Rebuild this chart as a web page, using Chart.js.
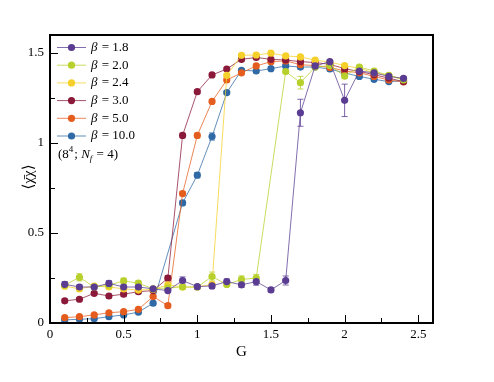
<!DOCTYPE html>
<html><head><meta charset="utf-8">
<script src="https://cdn.jsdelivr.net/npm/chart.js@4"></script>
<style>html,body{margin:0;padding:0;background:#fff}#wrap{width:494px;height:382px}</style>
</head><body><div id="wrap"><canvas id="c" width="494" height="382"></canvas></div>
<script>
// G values (x axis)
const G = [0.1,0.2,0.3,0.4,0.5,0.6,0.7,0.8,0.9,1.0,1.1,1.2,1.3,1.4,1.5,1.6,1.7,1.8,1.9,2.0,2.1,2.2,2.3,2.4];
const betaLabels = ['1.8','2.0','2.4','3.0','5.0','10.0'];
const seriesColors = ['#5a3d92','#b8d02c','#f6d02a','#8b1a3a','#e55d1e','#2f6aa6'];
// <chi-bar chi> values per beta (null = no point)
const beta18  = [0.215,0.20,0.20,0.22,0.20,0.20,0.19,0.18,0.236,0.202,0.206,0.23,0.212,0.23,0.184,0.236,1.168,1.428,1.452,1.237,1.40,1.39,1.37,1.359];
const beta20  = [0.21,0.254,0.20,0.21,0.234,0.221,0.19,0.195,0.20,0.20,0.258,0.214,0.242,0.25,null,1.397,1.335,1.422,1.43,1.372,1.422,1.40,1.376,1.35];
const beta24  = [0.205,0.19,0.205,0.20,0.19,0.183,0.186,0.212,0.20,0.20,0.215,1.376,1.487,1.489,1.499,1.484,1.478,1.46,1.45,1.43,1.415,1.39,1.375,1.355];
const beta30  = [0.123,0.132,0.165,0.15,0.16,0.174,0.18,0.249,1.042,1.285,1.378,1.411,1.465,1.475,1.465,1.461,1.452,1.447,1.437,1.413,1.397,1.38,1.36,1.341];
const beta50  = [0.03,0.035,0.045,0.057,0.063,0.076,0.147,0.096,0.719,1.042,1.231,1.35,1.39,1.428,1.452,1.456,1.435,1.43,1.42,1.40,1.39,1.37,1.35,1.34];
const beta100 = [0.017,0.021,0.024,0.035,0.045,0.06,0.11,null,0.667,0.821,1.036,1.28,1.404,1.40,1.413,1.428,1.422,1.422,1.411,1.389,1.37,1.354,1.341,1.345];
// error bar half-widths
const err18  = [0.015,0.012,0.01,0.015,0.012,0.012,0.01,0.01,0.02,0.012,0.015,0.015,0.015,0.02,0.01,0.025,0.075,0.01,0.01,0.09,0.01,0.01,0.01,0.01];
const err20  = [0.01,0.02,0.01,0.01,0.015,0.012,0.01,0.01,0.01,0.01,0.025,0.01,0.02,0.02,0,0.01,0.035,0.01,0.01,0.015,0.01,0.01,0.01,0.01];
const err24  = [0.015,0.015,0.01,0.01,0.01,0.01,0.01,0.01,0.01,0.01,0.01,0.01,0.01,0.01,0.01,0.01,0.01,0.01,0.01,0.01,0.01,0.01,0.01,0.01];
const err30  = [0.01,0.01,0.01,0.01,0.01,0.01,0.01,0.015,0.012,0.01,0.01,0.01,0.01,0.01,0.01,0.01,0.01,0.01,0.01,0.01,0.01,0.01,0.01,0.01];
const err50  = [0.005,0.005,0.005,0.005,0.005,0.005,0.01,0.01,0.012,0.012,0.01,0.01,0.01,0.01,0.01,0.01,0.01,0.01,0.01,0.01,0.01,0.01,0.01,0.01];
const err100 = [0.005,0.005,0.005,0.005,0.005,0.005,0.01,0,0.012,0.015,0.02,0.01,0.01,0.01,0.01,0.01,0.01,0.01,0.01,0.01,0.01,0.01,0.01,0.01];
const xTicks = [0,0.5,1,1.5,2,2.5];
const yTicks = [0,0.5,1,1.5];

const allVals = [beta18,beta20,beta24,beta30,beta50,beta100];
const allErrs = [err18,err20,err24,err30,err50,err100];

function hexA(h,a){const r=parseInt(h.slice(1,3),16),g=parseInt(h.slice(3,5),16),b=parseInt(h.slice(5,7),16);return `rgba(${r},${g},${b},${a})`;}

const datasets = allVals.map((vals,i)=>({
  label:'β = '+betaLabels[i],
  data: G.map((g,k)=>({x:g,y:vals[k],e:allErrs[i][k]})).filter(p=>p.y!==null),
  borderColor: hexA(seriesColors[i],0.75),
  backgroundColor: seriesColors[i],
  pointBackgroundColor: seriesColors[i],
  pointBorderColor: seriesColors[i],
  borderWidth: 1,
  pointRadius: 3.6,
  pointBorderWidth: 0,
  tension: 0
}));

const SERIF = "'Liberation Serif', 'Times New Roman', Tinos, 'DejaVu Serif', serif";

const decor = {
  id:'decor',
  beforeDatasetsDraw(chart){
    const ctx=chart.ctx, xs=chart.scales.x, ys=chart.scales.y;
    ctx.save();
    chart.data.datasets.forEach((ds,i)=>{
      ctx.strokeStyle=hexA(seriesColors[i],0.8);
      ctx.lineWidth=1;
      ds.data.forEach(p=>{
        if(!p.e) return;
        const x=xs.getPixelForValue(p.x), y1=ys.getPixelForValue(p.y+p.e), y2=ys.getPixelForValue(p.y-p.e);
        ctx.beginPath();
        ctx.moveTo(x,y1);ctx.lineTo(x,y2);
        ctx.moveTo(x-3,y1);ctx.lineTo(x+3,y1);
        ctx.moveTo(x-3,y2);ctx.lineTo(x+3,y2);
        ctx.stroke();
      });
    });
    ctx.restore();
  },
  afterDraw(chart){
    const ctx=chart.ctx, a=chart.chartArea, xs=chart.scales.x, ys=chart.scales.y;
    ctx.save();
    ctx.strokeStyle='#000'; ctx.lineWidth=2;
    ctx.strokeRect(a.left,a.top,a.right-a.left,a.bottom-a.top);
    ctx.lineWidth=1;
    ctx.beginPath();
    for(let v=0; v<=2.6001; v+=0.25){
      const x=Math.round(xs.getPixelForValue(v))+0.5;
      const major=Math.abs(v/0.5-Math.round(v/0.5))<1e-6;
      const L=major?8:5;
      ctx.moveTo(x,a.bottom);ctx.lineTo(x,a.bottom-L);
    }
    for(let v=0; v<=1.6001; v+=0.25){
      const y=Math.round(ys.getPixelForValue(v))+0.5;
      const major=Math.abs(v/0.5-Math.round(v/0.5))<1e-6;
      const L=major?8:5;
      ctx.moveTo(a.left,y);ctx.lineTo(a.left+L,y);
    }
    ctx.stroke();
    ctx.fillStyle='#000';
    ctx.font='15px '+SERIF;
    ctx.textAlign='center'; ctx.textBaseline='middle';
    ctx.fillText('G',(a.left+a.right)/2,352);
    ctx.save();
    ctx.translate(29,177); ctx.rotate(-Math.PI/2);
    ctx.font='15px '+SERIF;
    ctx.fillText('\u27E8\u03C7\u0304\u03C7\u27E9',0,0);
    ctx.restore();
    const rowY=[47.5,65.2,82.9,100.6,118.3,136];
    ctx.textAlign='left'; ctx.textBaseline='middle';
    chart.data.datasets.forEach((ds,i)=>{
      const y=rowY[i];
      ctx.strokeStyle=hexA(seriesColors[i],0.75); ctx.lineWidth=1;
      ctx.beginPath(); ctx.moveTo(57,y); ctx.lineTo(86,y); ctx.stroke();
      ctx.fillStyle=seriesColors[i];
      ctx.beginPath(); ctx.arc(71.5,y,3.6,0,Math.PI*2); ctx.fill();
      ctx.fillStyle='#000';
      ctx.font='italic 13px '+SERIF;
      let x=91; ctx.fillText('β',x,y); x+=ctx.measureText('β').width;
      ctx.font='13px '+SERIF;
      ctx.fillText(' = '+betaLabels[i],x+1,y);
    });
    let x=58, y=155;
    ctx.font='13px '+SERIF; ctx.fillText('(8',x,y); x+=ctx.measureText('(8').width;
    ctx.font='9px '+SERIF; ctx.fillText('4',x,y-5); x+=ctx.measureText('4').width+1;
    ctx.font='13px '+SERIF; ctx.fillText(';',x,y); x+=ctx.measureText('; ').width;
    ctx.font='italic 13px '+SERIF; ctx.fillText('N',x,y); x+=ctx.measureText('N').width;
    ctx.font='italic 9px '+SERIF; ctx.fillText('f',x,y+4); x+=ctx.measureText('f').width+1;
    ctx.font='13px '+SERIF; ctx.fillText(' = 4)',x,y);
    ctx.restore();
  }
};

function build(){
  return new Chart(document.getElementById('c'),{
    type:'line',
    data:{datasets},
    options:{
      responsive:false, animation:false,
      layout:{padding:{left:0,top:35,right:61,bottom:0}},
      plugins:{legend:{display:false},tooltip:{enabled:false}},
      scales:{
        x:{type:'linear',min:0,max:2.6,
          afterBuildTicks(s){s.ticks=xTicks.map(v=>({value:v}));},
          afterFit(s){s.height=59;},
          grid:{display:false,drawTicks:false},border:{display:false},
          ticks:{padding:4,color:'#000',font:{family:SERIF,size:13},maxRotation:0,autoSkip:false,callback:v=>String(v)}},
        y:{type:'linear',min:0,max:1.6,
          afterBuildTicks(s){s.ticks=yTicks.map(v=>({value:v}));},
          afterFit(s){s.width=50;},
          grid:{display:false,drawTicks:false},border:{display:false},
          ticks:{padding:6,color:'#000',font:{family:SERIF,size:13},autoSkip:false,callback:v=>String(v)}}
      }
    },
    plugins:[decor]
  });
}
const chart = build();
Promise.all([
  document.fonts.load("13px 'Liberation Serif'"),
  document.fonts.load("italic 13px 'Liberation Serif'")
]).then(()=>chart.update()).catch(()=>{});
</script></body></html>
